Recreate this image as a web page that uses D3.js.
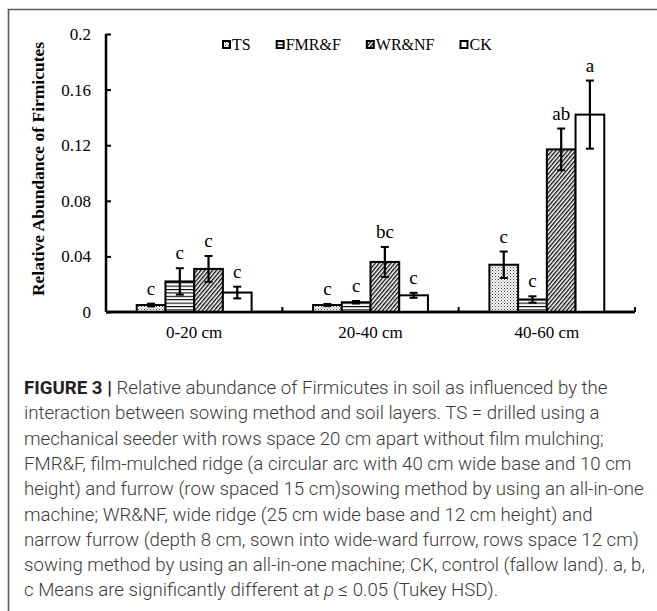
<!DOCTYPE html>
<html lang="en">
  <head>
    <meta charset="UTF-8" />
    <title>Figure 3</title>
    <style>
      body { margin: 0; background: #fff; }
    </style>
  </head>
  <body>
    <div id="chart">
      <svg width="657" height="611"></svg>
    </div>
    <script src="https://d3js.org/d3.v7.min.js"></script>
    <script>
      // soil layers and sowing methods
      const layers = ["0-20 cm", "20-40 cm", "40-60 cm"];
      const methods = ["TS", "FMR&F", "WR&NF", "CK"];

      // means per method, in layer order
      const tsMean = [0.005, 0.005, 0.034];
      const fmrMean = [0.022, 0.007, 0.009];
      const wrMean = [0.031, 0.036, 0.117];
      const ckMean = [0.014, 0.012, 0.142];

      // error bar half heights
      const tsErr = [0.001, 0.0008, 0.0095];
      const fmrErr = [0.0095, 0.0009, 0.0023];
      const wrErr = [0.0093, 0.0108, 0.015];
      const ckErr = [0.0042, 0.0018, 0.0245];

      // Tukey letters
      const tsSig = ["c", "c", "c"];
      const fmrSig = ["c", "c", "c"];
      const wrSig = ["c", "bc", "ab"];
      const ckSig = ["c", "c", "a"];

      const yTicks = [0, 0.04, 0.08, 0.12, 0.16, 0.2];

      const captionLines = [
        "Relative abundance of Firmicutes in soil as influenced by the",
        "interaction between sowing method and soil layers. TS = drilled using a",
        "mechanical seeder with rows space 20 cm apart without film mulching;",
        "FMR&F, film-mulched ridge (a circular arc with 40 cm wide base and 10 cm",
        "height) and furrow (row spaced 15 cm)sowing method by using an all-in-one",
        "machine; WR&NF, wide ridge (25 cm wide base and 12 cm height) and",
        "narrow furrow (depth 8 cm, sown into wide-ward furrow, rows space 12 cm)",
        "sowing method by using an all-in-one machine; CK, control (fallow land). a, b,",
        "c Means are significantly different at",
      ];

      const means = [tsMean, fmrMean, wrMean, ckMean];
      const errs = [tsErr, fmrErr, wrErr, ckErr];
      const sigs = [tsSig, fmrSig, wrSig, ckSig];

      const data = [];
      methods.forEach((m, i) => {
        layers.forEach((l, j) => {
          data.push({ method: m, layer: l, mean: means[i][j], err: errs[i][j], sig: sigs[i][j] });
        });
      });

      var svg = d3.select("#chart>svg");
      var serif = "'Liberation Serif', 'Times New Roman', serif";
      var sans = "Roboto, 'Liberation Sans', Arial, sans-serif";

      // outer frame (only top and left edges are visible)
      svg.append("path")
        .attr("d", "M8.5,611 V9.5 H657")
        .attr("fill", "none")
        .attr("stroke", "#5a5a5a")
        .attr("stroke-width", 1.6);

      // hatch patterns
      var defs = svg.append("defs");
      var pDots = defs.append("pattern")
        .attr("id", "p-TS").attr("patternUnits", "userSpaceOnUse")
        .attr("width", 3).attr("height", 3);
      pDots.append("rect").attr("width", 3).attr("height", 3).attr("fill", "#fff");
      pDots.append("rect").attr("x", 0).attr("y", 0).attr("width", 1).attr("height", 1).attr("fill", "#444");
      pDots.append("rect").attr("x", 1.5).attr("y", 1.5).attr("width", 1).attr("height", 1).attr("fill", "#666");

      var pH = defs.append("pattern")
        .attr("id", "p-FMR").attr("patternUnits", "userSpaceOnUse")
        .attr("width", 6).attr("height", 3.4);
      pH.append("rect").attr("width", 6).attr("height", 3.4).attr("fill", "#fff");
      pH.append("rect").attr("y", 0).attr("width", 6).attr("height", 1.1).attr("fill", "#000");

      var pD = defs.append("pattern")
        .attr("id", "p-WR").attr("patternUnits", "userSpaceOnUse")
        .attr("width", 3).attr("height", 6)
        .attr("patternTransform", "rotate(40)");
      pD.append("rect").attr("width", 3).attr("height", 6).attr("fill", "#fff");
      pD.append("rect").attr("width", 1.4).attr("height", 6).attr("fill", "#111");

      var fills = { "TS": "url(#p-TS)", "FMR&F": "url(#p-FMR)", "WR&NF": "url(#p-WR)", "CK": "#fff" };

      var x0 = d3.scaleBand().domain(layers).range([106, 635]);
      var x1 = d3.scaleBand().domain(methods).range([0, x0.bandwidth()]).paddingOuter(1.07);
      var y = d3.scaleLinear().domain([0, 0.2]).range([312, 34]);

      // y axis
      var yAxis = svg.append("g")
        .attr("transform", "translate(106,0)")
        .call(d3.axisLeft(y).tickValues(yTicks).tickSize(-5).tickPadding(15)
          .tickFormat((d) => (d === 0 ? "0" : String(+d.toFixed(2)))));
      yAxis.attr("font-family", serif).attr("font-size", 17);
      yAxis.select(".domain").attr("stroke-width", 2.5).attr("d", "M0,34V312");
      yAxis.selectAll(".tick line").attr("stroke-width", 2);
      yAxis.selectAll(".tick text").style("font-family", serif).attr("fill", "#000");

      // x axis with ticks between categories
      var xAxis = svg.append("g")
        .attr("transform", "translate(0,312)")
        .call(d3.axisBottom(x0).tickSize(0).tickPadding(14));
      xAxis.attr("font-family", serif).attr("font-size", 17);
      xAxis.select(".domain").attr("stroke-width", 2.5).attr("d", "M106,0H635");
      xAxis.selectAll(".tick text").style("font-family", serif).attr("fill", "#000");
      xAxis.selectAll(".sep")
        .data(layers.slice(1).concat(["end"]))
        .join("line")
        .attr("class", "sep")
        .attr("x1", (d, i) => x0.range()[0] + x0.step() * (i + 1))
        .attr("x2", (d, i) => x0.range()[0] + x0.step() * (i + 1))
        .attr("y1", 0).attr("y2", -5)
        .attr("stroke", "#000").attr("stroke-width", 2);

      // bars
      var g = svg.append("g");
      var bx = (d) => x0(d.layer) + x1(d.method);
      g.selectAll("rect.bar")
        .data(data)
        .join("rect")
        .attr("class", "bar")
        .attr("x", bx)
        .attr("y", (d) => y(d.mean))
        .attr("width", x1.bandwidth())
        .attr("height", (d) => y(0) - y(d.mean))
        .attr("fill", (d) => fills[d.method])
        .attr("stroke", "#000")
        .attr("stroke-width", 2);

      // redraw axis line over bar bottoms
      svg.append("line")
        .attr("x1", 106).attr("x2", 635).attr("y1", 312).attr("y2", 312)
        .attr("stroke", "#000").attr("stroke-width", 2.5);

      // error bars
      var eb = g.selectAll("g.err").data(data).join("g").attr("class", "err")
        .attr("transform", (d) => "translate(" + (bx(d) + x1.bandwidth() / 2) + ",0)");
      eb.append("line")
        .attr("y1", (d) => y(d.mean - d.err)).attr("y2", (d) => y(d.mean + d.err))
        .attr("stroke", "#000").attr("stroke-width", 2.2);
      eb.append("line")
        .attr("x1", -4).attr("x2", 4)
        .attr("y1", (d) => y(d.mean + d.err)).attr("y2", (d) => y(d.mean + d.err))
        .attr("stroke", "#000").attr("stroke-width", 2);
      eb.append("line")
        .attr("x1", -4).attr("x2", 4)
        .attr("y1", (d) => y(d.mean - d.err)).attr("y2", (d) => y(d.mean - d.err))
        .attr("stroke", "#000").attr("stroke-width", 2);

      // significance letters
      g.selectAll("text.sig")
        .data(data)
        .join("text")
        .attr("class", "sig")
        .attr("x", (d) => bx(d) + x1.bandwidth() / 2)
        .attr("y", (d) => y(d.mean + d.err) - 9)
        .attr("text-anchor", "middle")
        .attr("font-family", serif)
        .attr("font-size", 19)
        .text((d) => d.sig);

      // y axis title
      svg.append("text")
        .attr("transform", "translate(44,169) rotate(-90)")
        .attr("text-anchor", "middle")
        .attr("font-family", serif)
        .attr("font-weight", "bold")
        .attr("font-size", 17.5)
        .text("Relative Abundance of Firmicutes");

      // legend
      var leg = svg.append("g").attr("transform", "translate(222,0)");
      var lx = 0;
      methods.forEach((m) => {
        var item = leg.append("g").attr("transform", "translate(" + lx + ",0)");
        item.append("rect")
          .attr("x", 1).attr("y", 41).attr("width", 7).attr("height", 7)
          .attr("fill", fills[m]).attr("stroke", "#000").attr("stroke-width", 2);
        var t = item.append("text")
          .attr("x", 10).attr("y", 50)
          .attr("font-family", serif).attr("font-size", 16)
          .text(m);
        lx += 10 + t.node().getComputedTextLength() + 25;
      });

      // caption
      var cap = svg.append("g").attr("fill", "#3a3a3a").attr("font-family", sans).attr("font-weight", 300);
      var probe = cap.append("text").attr("font-size", 15).text(captionLines[6]);
      var fs = 15 * 615 / probe.node().getComputedTextLength();
      probe.remove();
      cap.attr("font-size", fs);
      var c0 = 24, cy0 = 394, lh = 25.3;
      captionLines.forEach((line, i) => {
        var t = cap.append("text").attr("x", c0).attr("y", cy0 + i * lh);
        if (i === 0) {
          t.append("tspan").attr("font-weight", "bold").attr("fill", "#222").text("FIGURE 3 | ");
        }
        t.append("tspan").text(line);
        if (i === captionLines.length - 1) {
          t.append("tspan").text(" ");
          t.append("tspan").attr("font-style", "italic").text("p");
          t.append("tspan").text(" \u2264 0.05 (Tukey HSD).");
        }
      });
    </script>
  </body>
</html>
